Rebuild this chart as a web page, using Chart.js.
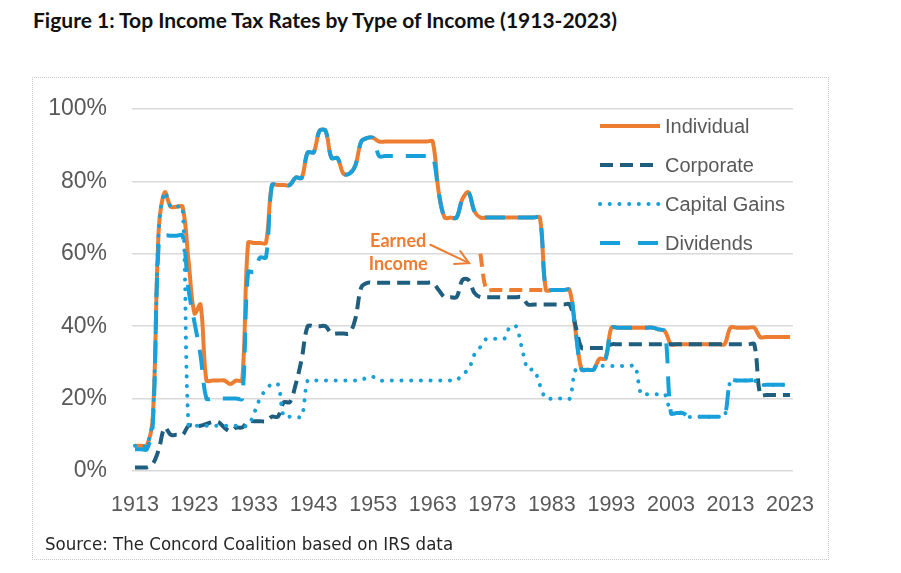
<!DOCTYPE html>
<html><head><meta charset="utf-8">
<script src="https://cdn.jsdelivr.net/npm/chart.js@4.4.1/dist/chart.umd.min.js"></script>
<style>
body{margin:0;background:#fff;width:901px;height:573px;overflow:hidden;position:relative}
#title{position:absolute;left:33px;top:7px;font:700 21px Lato,sans-serif;color:#111;white-space:nowrap}
#box{position:absolute;left:32px;top:77px;width:795px;height:481px;border:1px dotted #c9c9c9}
#wrap{position:absolute;left:0;top:0;width:795px;height:481px}
#source{position:absolute;left:12px;top:455px;font:18.5px "Liberation Sans Narrow","DejaVu Sans Condensed",sans-serif;color:#262626;white-space:nowrap}
</style></head>
<body>
<div id="title">Figure 1: Top Income Tax Rates by Type of Income (1913-2023)</div>
<div id="box"><div id="wrap"><canvas id="c" width="795" height="481"></canvas></div><div id="source">Source: The Concord Coalition based on IRS data</div></div>
<script>
const years = [1913,1914,1915,1916,1917,1918,1919,1920,1921,1922,1923,1924,1925,1926,1927,1928,1929,1930,1931,1932,1933,1934,1935,1936,1937,1938,1939,1940,1941,1942,1943,1944,1945,1946,1947,1948,1949,1950,1951,1952,1953,1954,1955,1956,1957,1958,1959,1960,1961,1962,1963,1964,1965,1966,1967,1968,1969,1970,1971,1972,1973,1974,1975,1976,1977,1978,1979,1980,1981,1982,1983,1984,1985,1986,1987,1988,1989,1990,1991,1992,1993,1994,1995,1996,1997,1998,1999,2000,2001,2002,2003,2004,2005,2006,2007,2008,2009,2010,2011,2012,2013,2014,2015,2016,2017,2018,2019,2020,2021,2022,2023];
const tickYears = [1913,1923,1933,1943,1953,1963,1973,1983,1993,2003,2013,2023];

const individual = [7,7,7,15,67,77,73,73,73,58,43.5,46,25,25,25,25,24,25,25,63,63,63,63,79,79,79,79,81.1,81,88,88,94,94,86.45,86.45,82.13,82.13,84.36,91,92,92,
91,91,91,91,91,91,91,91,91,91,
77,70,70,70,75.25,77,71.75,
70,70,70,70,70,70,70,70,70,70,70,
50,50,50,50,50,38.5,28,28,28,31,31,
39.6,39.6,39.6,39.6,39.6,39.6,39.6,39.6,39.1,38.6,
35,35,35,35,35,35,35,35,35,35,
39.6,39.6,39.6,39.6,39.6,37,37,37,37,37,37];

const corporate = [1,1,1,2,6,12,10,10,10,12.5,12.5,12.5,13,13.5,13.5,12,11,12,12,13.75,13.75,13.75,13.75,15,15,19,19,24,31,40,40,40,40,38,38,38,38,42,50.75,52,52,
52,52,52,52,52,52,52,52,52,52,
50,48,48,48,52.8,52.8,49.2,
48,48,48,48,48,48,48,48,
46,46,46,46,46,46,46,46,
40,34,34,34,34,34,
35,35,35,35,35,35,35,35,35,35,35,35,35,35,35,35,35,35,35,35,35,35,35,35,35,
21,21,21,21,21,21];

const capitalGains = [7,7,7,15,67,77,73,73,73,
12.5,12.5,12.5,12.5,12.5,12.5,12.5,12.5,12.5,12.5,
12.5,16,20,22.5,24,24,15,15,15,15,
25,25,25,25,25,25,25,25,25,25,
26,26,
25,25,25,25,25,25,25,25,25,25,25,25,25,25,
26.9,27.9,32.2,34.25,36.5,36.5,36.5,36.5,39.9,39.9,33.85,28,28,23.7,
20,20,20,20,20,
28,28,28,28,29,29,29,29,29,29,29,
21.2,21.2,21.2,21.2,21.2,
16,16,16,15,15,15,15,15,15,15,
25,25,25,25,25,23.8,23.8,23.8,23.8,23.8,23.8];

const dividends = [6,6,6,13,63,65,65,65,65,50,41,32,
20,20,20,20,20,20,20,
55,55,59,59,79,79,79,79,81.1,81,88,88,94,94,86.45,86.45,82.13,82.13,84.36,91,92,92,
87,87,87,87,87,87,87,87,87,87,
77,70,70,70,75.25,77,71.75,
70,70,70,70,70,70,70,70,70,70,70,
50,50,50,50,50,38.5,28,28,28,31,31,
39.6,39.6,39.6,39.6,39.6,39.6,39.6,39.6,39.1,38.6,
16,16,16,15,15,15,15,15,15,15,
25,25,25,25,25,23.8,23.8,23.8,23.8,23.8,23.8];

// Maximum rate on earned income, 1971-1982
const earnedYears = [1971,1972,1973,1974,1975,1976,1977,1978,1979,1980,1981,1982];
const earnedValues = [60,50,50,50,50,50,50,50,50,50,50,50];
const earnedIncome = years.map(y => { const i = earnedYears.indexOf(y); return i < 0 ? null : earnedValues[i]; });

const yTicks = [0,20,40,60,80,100];
const annotationLines = ['Earned','Income'];

const ORANGE = '#ED7D31', DARK = '#1F5E7E', LIGHT = '#18A0DB';

const insideLegend = {
  id: 'insideLegend',
  afterDatasetsDraw(chart) {
    const ctx = chart.ctx, a = chart.chartArea;
    const items = chart.data.datasets.filter(d => d.inLegend);
    ctx.save();
    items.forEach((d, i) => {
      const y = a.top + 17 + i * 39;
      const x0 = a.left + 468, x1 = a.left + 528;
      ctx.beginPath();
      ctx.setLineDash(d.legendDash || d.borderDash || []);
      ctx.lineCap = d.borderCapStyle || 'butt';
      ctx.strokeStyle = d.borderColor;
      ctx.lineWidth = d.borderWidth;
      ctx.moveTo(x0, y); ctx.lineTo(x1, y); ctx.stroke();
      ctx.setLineDash([]);
      ctx.fillStyle = '#595959';
      ctx.font = '20px "Liberation Sans", Arial, sans-serif';
      ctx.textBaseline = 'middle';
      ctx.textAlign = 'left';
      ctx.fillText(d.label, x1 + 5, y + 1);
    });
    ctx.restore();
  }
};

const earnedNote = {
  id: 'earnedNote',
  afterDatasetsDraw(chart) {
    const ctx = chart.ctx, xs = chart.scales.x, ys = chart.scales.y;
    const px = yr => xs.getPixelForValue(yr - years[0]);
    ctx.save();
    ctx.fillStyle = ORANGE;
    ctx.font = '700 18px Lato, sans-serif';
    ctx.textAlign = 'center';
    ctx.textBaseline = 'middle';
    ctx.fillText(annotationLines[0], px(1957.2), ys.getPixelForValue(63.6));
    ctx.fillText(annotationLines[1], px(1957.2), ys.getPixelForValue(57.0));
    const x0 = px(1962.6), y0 = ys.getPixelForValue(62.5);
    const x1 = px(1969.1), y1 = ys.getPixelForValue(57.4);
    ctx.strokeStyle = ORANGE; ctx.lineWidth = 2; ctx.lineCap = 'round';
    ctx.beginPath(); ctx.moveTo(x0, y0); ctx.lineTo(x1, y1); ctx.stroke();
    const ang = Math.atan2(y0 - y1, x0 - x1);
    ctx.beginPath();
    ctx.moveTo(x1 + 15 * Math.cos(ang + 0.5), y1 + 15 * Math.sin(ang + 0.5));
    ctx.lineTo(x1, y1);
    ctx.lineTo(x1 + 15 * Math.cos(ang - 0.5), y1 + 15 * Math.sin(ang - 0.5));
    ctx.stroke();
    ctx.restore();
  }
};

new Chart(document.getElementById('c'), {
  type: 'line',
  data: {
    labels: years.map(String),
    datasets: [
      { label: 'Individual', data: individual, borderColor: ORANGE, borderWidth: 4, order: 5, inLegend: true },
      { label: 'Earned Income', data: earnedIncome, borderColor: ORANGE, borderWidth: 4, borderDash: [13, 7], order: 4, spanGaps: false },
      { label: 'Corporate', data: corporate, borderColor: DARK, borderWidth: 4, borderDash: [13, 7], order: 3, inLegend: true },
      { label: 'Capital Gains', data: capitalGains, borderColor: LIGHT, borderWidth: 4, borderDash: [0.1, 9.6], borderCapStyle: 'round', order: 2, inLegend: true },
      { label: 'Dividends', data: dividends, borderColor: LIGHT, borderWidth: 4, borderDash: [20, 13], legendDash: [20, 18], order: 1, inLegend: true }
    ]
  },
  options: {
    responsive: false,
    animation: false,
    layout: { padding: { left: 0, right: 35, top: 31, bottom: 38 } },
    elements: { point: { radius: 0, hoverRadius: 0 }, line: { tension: 0.35, fill: false, borderJoinStyle: 'round' } },
    plugins: { legend: { display: false }, tooltip: { enabled: false } },
    scales: {
      x: {
        type: 'category',
        offset: true,
        grid: { display: true, drawOnChartArea: false, drawTicks: true, tickLength: 21, tickColor: 'rgba(0,0,0,0)', color: 'rgba(0,0,0,0)' },
        border: { display: false },
        afterFit(s) { s.height = 50; },
        ticks: {
          autoSkip: false, maxRotation: 0, padding: 0,
          color: '#595959', font: { family: '"Liberation Sans", Arial, sans-serif', size: 21.5 },
          callback(v, i) { const y = years[i]; return tickYears.includes(y) ? String(y) : null; }
        }
      },
      y: {
        min: 0, max: 100,
        afterBuildTicks(s) { s.ticks = yTicks.map(v => ({ value: v })); },
        afterFit(s) { s.width = 99; },
        grid: { color: '#D9D9D9', lineWidth: 1.5, drawTicks: true, tickLength: 25, tickColor: 'rgba(0,0,0,0)' },
        border: { display: false },
        ticks: {
          padding: 0, color: '#595959',
          font: { family: '"Liberation Sans", Arial, sans-serif', size: 23 },
          callback(v) { return v + '%'; }
        }
      }
    }
  },
  plugins: [insideLegend, earnedNote]
});
</script>
</body></html>
